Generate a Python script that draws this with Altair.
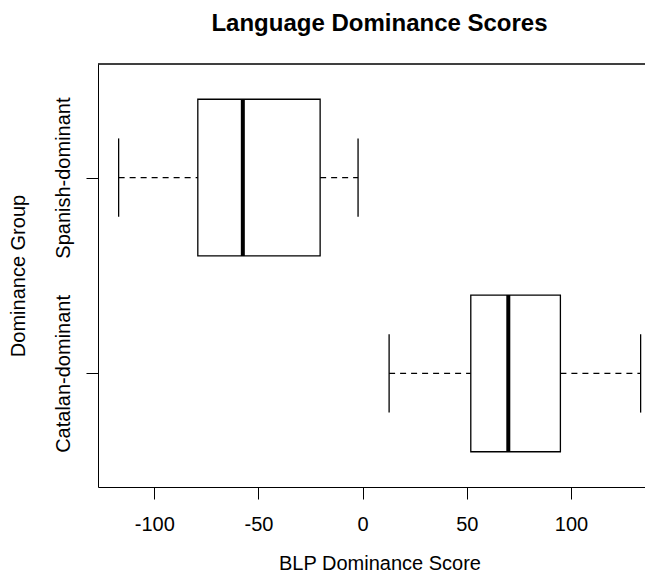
import altair as alt
import pandas as pd

# Data (horizontal boxplot)
groups = ["Catalan-dominant", "Spanish-dominant"]
positions = [1, 2]
whisker_low = [12.7, -117.1]
q1 = [51.9, -79.1]
median = [69.9, -57.5]
q3 = [94.9, -20.4]
whisker_high = [133.4, -2.2]

x_ticks = [-100, -50, 0, 50, 100]

df = pd.DataFrame({
    "group": groups,
    "pos": positions,
    "wlo": whisker_low,
    "q1": q1,
    "med": median,
    "q3": q3,
    "whi": whisker_high,
})

FONT = "Liberation Sans"
W, H = 547, 423

xscale = alt.Scale(domain=[-127, 135.5], nice=False, zero=False)
yscale = alt.Scale(domain=[0.42, 2.58], nice=False, zero=False)

label_expr = " : ".join(
    [f"datum.value == {p} ? '{g}'" for p, g in zip(positions, groups)]
) + " : ''"

xaxis = alt.Axis(
    values=x_ticks, title="BLP Dominance Score", grid=False,
    labelExpr="(datum.value < 0 ? '-' : '') + format(abs(datum.value), 'd')",
    tickSize=12, tickColor="black", tickWidth=1,
    domainColor="black", domainWidth=1,
    labelFont=FONT, labelFontSize=20, labelColor="black",
    labelBaseline="alphabetic", labelPadding=31.7, labelFlush=False,
    titleFont=FONT, titleFontSize=20, titleFontWeight="normal", titleColor="black",
    titleX=281.5, titleY=82, titleBaseline="alphabetic", titleAlign="center",
)
yaxis = alt.Axis(
    values=positions, labelExpr=label_expr, title="Dominance Group", grid=False,
    tickSize=12, tickColor="black", tickWidth=1,
    domainColor="black", domainWidth=1,
    labelFont=FONT, labelFontSize=20, labelColor="black",
    labelAngle=270, labelAlign="center", labelBaseline="alphabetic",
    labelPadding=17, labelFlush=False,
    titleFont=FONT, titleFontSize=20, titleFontWeight="normal", titleColor="black",
    titleAngle=270, titleX=-74, titleY=211.5, titleBaseline="alphabetic",
    titleAlign="center",
)

base = alt.Chart(df).transform_calculate(
    box_lo="datum.pos - 0.4", box_hi="datum.pos + 0.4",
    cap_lo="datum.pos - 0.2", cap_hi="datum.pos + 0.2",
)

X = lambda f: alt.X(f, scale=xscale, axis=xaxis)
Y = lambda f: alt.Y(f, scale=yscale, axis=yaxis)

box = base.mark_rect(fill="white", stroke="black", strokeWidth=1.3).encode(
    x=X("q1:Q"), x2="q3:Q", y=Y("box_lo:Q"), y2="box_hi:Q",
)
med = base.mark_rule(color="black", strokeWidth=4).encode(
    x=X("med:Q"), y=Y("box_lo:Q"), y2="box_hi:Q",
)
wl = base.mark_rule(color="black", strokeWidth=1.2, strokeDash=[6, 5]).encode(
    x=X("wlo:Q"), x2="q1:Q", y=Y("pos:Q"),
)
wh = base.mark_rule(color="black", strokeWidth=1.2, strokeDash=[6, 5]).encode(
    x=X("q3:Q"), x2="whi:Q", y=Y("pos:Q"),
)
cap_l = base.mark_rule(color="black", strokeWidth=1.3).encode(
    x=X("wlo:Q"), y=Y("cap_lo:Q"), y2="cap_hi:Q",
)
cap_h = base.mark_rule(color="black", strokeWidth=1.3).encode(
    x=X("whi:Q"), y=Y("cap_lo:Q"), y2="cap_hi:Q",
)

top_border = alt.Chart(df).mark_rule(color="black", strokeWidth=1).encode(
    x=alt.value(0), x2=alt.value(W), y=alt.value(0)
)

chart = alt.layer(box, med, wl, wh, cap_l, cap_h, top_border).properties(
    width=W, height=H,
    padding={"left": 90, "top": 56, "right": 0, "bottom": 87},
    autosize=alt.AutoSizeParams(type="none"),
    title=alt.TitleParams(
        text="Language Dominance Scores", font=FONT, fontSize=24,
        fontWeight="bold", color="black", anchor="middle", frame="group",
        dx=8, offset=28,
    ),
).configure_view(strokeWidth=0)

chart.save("out.html", embed_options={"renderer": "svg", "actions": False})
